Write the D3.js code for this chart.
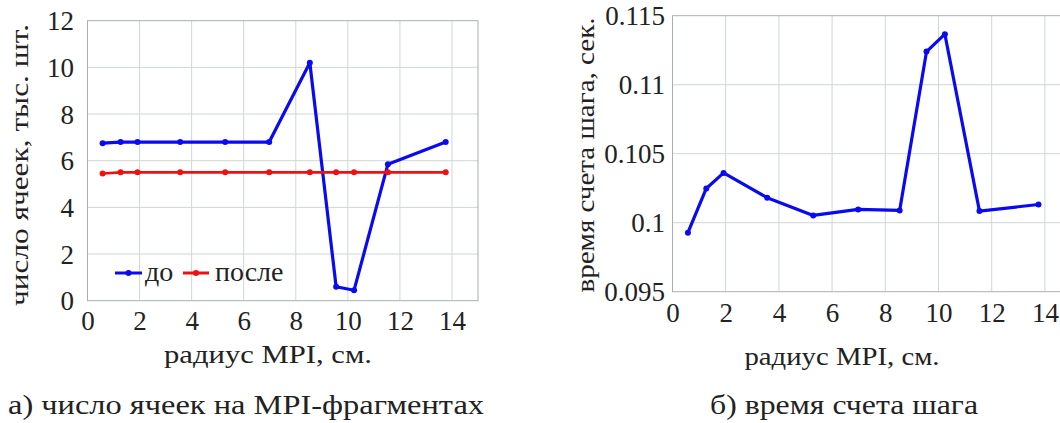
<!DOCTYPE html>
<html>
<head>
<meta charset="utf-8">
<script src="https://cdn.jsdelivr.net/npm/d3@7"></script>
<style>
  html, body { margin: 0; padding: 0; background: #ffffff; }
</style>
</head>
<body>
<div id="figure"></div>
<script>
// MPI radius, cm (shared by both panels)
const radius = [0.58, 1.27, 1.92, 3.56, 5.29, 6.98, 8.54, 9.55, 10.24, 11.54, 13.76];
// cell count on MPI fragments, thousands
const cellsBefore = [6.75, 6.8, 6.8, 6.8, 6.8, 6.8, 10.2, 0.6, 0.45, 5.85, 6.8];
const cellsAfter  = [5.45, 5.5, 5.5, 5.5, 5.5, 5.5, 5.5, 5.5, 5.5, 5.5, 5.5];
// step computation time, s
const stepTime = [0.09928, 0.10248, 0.10361, 0.10181, 0.10053, 0.10096, 0.10089, 0.1124, 0.11366, 0.10084, 0.10132];

const xTicks = [0, 2, 4, 6, 8, 10, 12, 14];
const cellTicks = [0, 2, 4, 6, 8, 10, 12];
const timeTicks = [0.095, 0.1, 0.105, 0.11, 0.115];
const seriesNames = ["до", "после"];

const BLUE = "#0a0af0", RED = "#f01010";
const GRID = "#cfd6d6", FRAME = "#a8aeae";
const FONT = '"Liberation Serif"';
const INK = "#222";

const svg = d3.select("#figure").append("svg")
  .attr("width", 1060).attr("height", 423)
  .style("display", "block")
  .style("font-family", FONT);

function label(sel, size) {
  return sel.style("font-family", FONT).style("font-size", size + "px").attr("fill", INK);
}

function panel(opts) {
  const x = d3.scaleLinear().domain([0, 15]).range([opts.left, opts.right]);
  const y = d3.scaleLinear().domain(opts.yDomain).range([opts.bottom, opts.top]);
  const g = svg.append("g");

  // grid
  g.append("g").selectAll("line").data(xTicks.filter(d => d > 0)).join("line")
    .attr("x1", d => x(d)).attr("x2", d => x(d))
    .attr("y1", opts.top).attr("y2", opts.bottom)
    .attr("stroke", GRID).attr("stroke-width", 1);
  g.append("g").selectAll("line").data(opts.yTicks.slice(1, -1)).join("line")
    .attr("y1", d => y(d)).attr("y2", d => y(d))
    .attr("x1", opts.left).attr("x2", opts.right)
    .attr("stroke", GRID).attr("stroke-width", 1);

  // frame
  g.append("rect")
    .attr("x", opts.left).attr("y", opts.top)
    .attr("width", opts.right - opts.left).attr("height", opts.bottom - opts.top)
    .attr("fill", "none").attr("stroke", FRAME).attr("stroke-width", 1);

  // tick labels
  const xAxis = d3.axisBottom(x).tickValues(xTicks).tickSize(0).tickPadding(0).tickFormat(d => String(d));
  const xa = g.append("g").attr("transform", `translate(0,${opts.xLabelY})`).call(xAxis);
  xa.select(".domain").remove();
  xa.attr("font-family", null).attr("font-size", null);
  label(xa.selectAll("text").attr("dy", 0).attr("y", 0), 27);

  const yAxis = d3.axisLeft(y).tickValues(opts.yTicks).tickSize(0).tickPadding(0).tickFormat(d => String(d));
  const ya = g.append("g").attr("transform", `translate(${opts.yLabelX},0)`).call(yAxis);
  ya.select(".domain").remove();
  ya.attr("font-family", null).attr("font-size", null);
  label(ya.selectAll("text").attr("dy", "0.34em").attr("x", 0), 27);

  // axis titles
  label(g.append("text")
    .attr("x", opts.xTitleX).attr("y", opts.xTitleY)
    .attr("text-anchor", "middle")
    .attr("textLength", opts.xTitleLen).attr("lengthAdjust", "spacingAndGlyphs")
    .text("радиус MPI, см."), 26);
  label(g.append("text")
    .attr("transform", `translate(${opts.yTitleX},${opts.yTitleY}) rotate(-90)`)
    .attr("text-anchor", "middle")
    .attr("textLength", opts.yTitleLen).attr("lengthAdjust", "spacingAndGlyphs")
    .text(opts.yTitle), 26);

  // caption
  label(svg.append("text")
    .attr("x", opts.capX).attr("y", 414)
    .attr("text-anchor", "middle")
    .attr("textLength", opts.capLen).attr("lengthAdjust", "spacingAndGlyphs")
    .text(opts.caption), 28);

  return { x, y, g };
}

function series(p, xs, ys, color, width) {
  const line = d3.line().x(d => p.x(d[0])).y(d => p.y(d[1]));
  const pts = xs.map((v, i) => [v, ys[i]]);
  p.g.append("path").datum(pts)
    .attr("d", line).attr("fill", "none")
    .attr("stroke", color).attr("stroke-width", width).attr("stroke-linejoin", "round");
  p.g.append("g").selectAll("circle").data(pts).join("circle")
    .attr("cx", d => p.x(d[0])).attr("cy", d => p.y(d[1]))
    .attr("r", 3).attr("fill", color);
}

// panel а): cells per MPI fragment
const pa = panel({
  left: 87.5, right: 478, top: 20.7, bottom: 300.7,
  yDomain: [0, 12], yTicks: cellTicks,
  xLabelY: 330, yLabelX: 74,
  xTitleX: 268, xTitleY: 363, xTitleLen: 208,
  yTitleX: 28, yTitleY: 165, yTitleLen: 282,
  yTitle: "число ячеек, тыс. шт.",
  capX: 246, capLen: 476,
  caption: "а) число ячеек на MPI-фрагментах"
});
series(pa, radius, cellsBefore, BLUE, 3.2);
series(pa, radius, cellsAfter, RED, 2.6);

// legend
const legend = pa.g.append("g");
const legendItems = [
  { name: seriesNames[0], color: BLUE, x0: 115, x1: 142, tx: 145 },
  { name: seriesNames[1], color: RED, x0: 183, x1: 209, tx: 215 }
];
legendItems.forEach(it => {
  legend.append("line").attr("x1", it.x0).attr("x2", it.x1).attr("y1", 273).attr("y2", 273)
    .attr("stroke", it.color).attr("stroke-width", 3);
  legend.append("circle").attr("cx", (it.x0 + it.x1) / 2).attr("cy", 273).attr("r", 3).attr("fill", it.color);
  label(legend.append("text").attr("x", it.tx).attr("y", 281).text(it.name), 28);
});

// panel б): step time
const pb = panel({
  left: 672.5, right: 1071.5, top: 15.7, bottom: 291.7,
  yDomain: [0.095, 0.115], yTicks: timeTicks,
  xLabelY: 322, yLabelX: 665,
  xTitleX: 842, xTitleY: 365, xTitleLen: 195,
  yTitleX: 594, yTitleY: 155, yTitleLen: 275,
  yTitle: "время счета шага, сек.",
  capX: 844, capLen: 268,
  caption: "б) время счета шага"
});
series(pb, radius, stepTime, BLUE, 3.2);
</script>
</body>
</html>
